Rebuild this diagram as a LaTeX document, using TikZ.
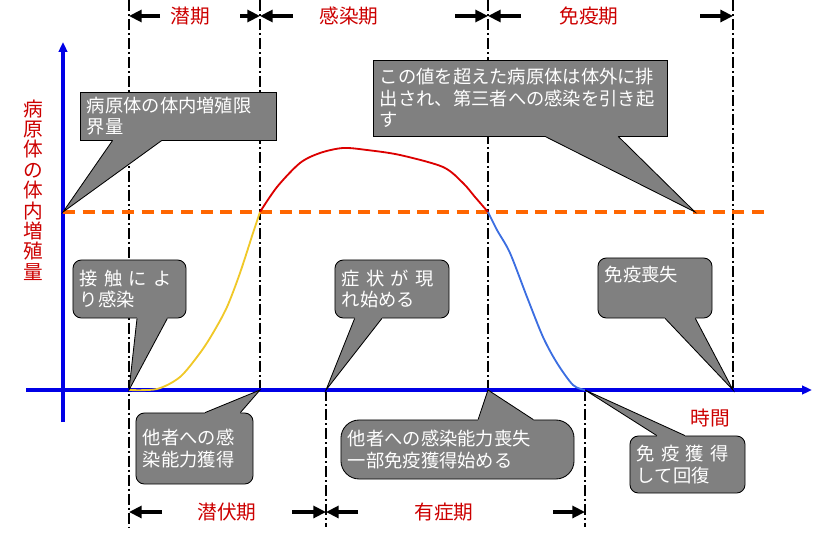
\documentclass[tikz,border=0pt]{standalone}
\usepackage{fontspec}
\setmainfont{Noto Sans CJK JP}
\usetikzlibrary{calc,arrows.meta}

\definecolor{labelred}{RGB}{204,0,0}
\definecolor{axisblue}{RGB}{0,0,230}
\definecolor{limitorange}{RGB}{255,102,0}
\definecolor{boxgray}{RGB}{128,128,128}
\definecolor{curveyellow}{RGB}{240,200,40}
\definecolor{curvered}{RGB}{220,0,0}
\definecolor{curveblue}{RGB}{60,110,225}

\begin{document}
\begin{tikzpicture}[x=0.025cm, y=-0.025cm,
    period/.style={line width=1.4pt, dash pattern=on 8pt off 2pt on 1.5pt off 2pt},
    span/.style={line width=3.3pt, -{Triangle[length=9pt,width=8.5pt]}},
    axis/.style={axisblue, line width=2.8pt},
    phase/.style={text=labelred, font=\fontsize{14}{17}\selectfont},
    note/.style={rectangle, draw=black, line width=0.6pt, fill=boxgray, text=white,
        font=\fontsize{13}{15.5}\selectfont, align=left, inner xsep=5pt, inner ysep=2pt},
    roundnote/.style={note, rounded corners=6pt}]
    \useasboundingbox (0,0) rectangle (816,559);

    % period boundaries
    \coordinate (t1) at (129,0);   \coordinate (b1) at (129,527);
    \coordinate (t2) at (260,0);   \coordinate (b2) at (260,390);
    \coordinate (t3) at (488,0);   \coordinate (b3) at (488,390);
    \coordinate (t4) at (733,0);   \coordinate (b4) at (733,390);
    \coordinate (t5) at (326,390); \coordinate (b5) at (326,527);
    \coordinate (t6) at (585,390); \coordinate (b6) at (585,527);
    \foreach \n in {1,...,6}
        \draw[period] (t\n) -- (b\n);

    % axes and limit
    \coordinate (ybot) at (63,422);   \coordinate (ytop) at (63,42);
    \coordinate (xleft) at (26,390);  \coordinate (xright) at (812,390);
    \coordinate (lim0) at (63,212);   \coordinate (lim1) at (767,212);
    \coordinate (shed) at (695,212);
    \draw[axis, -{Triangle[length=7pt,width=6pt]}] (ybot) -- (ytop);
    \draw[axis, -{Triangle[length=7pt,width=6pt]}] (xleft) -- (xright);
    \draw[limitorange, line width=2.8pt, dash pattern=on 8.5pt off 5.5pt] (lim0) -- (lim1);

    % pathogen curve
    \draw[curveyellow, line width=1.3pt] plot[smooth] coordinates {(129,390) (157,389) (180,377) (200,353) (213,333) (227,307) (240,273) (253,233) (260,212)};
    \draw[curvered, line width=1.3pt] plot[smooth] coordinates {(260,212) (277,187) (300,163) (320,153) (343,148) (367,150) (400,155) (443,167) (463,183) (475,197) (488,212)};
    \draw[curveblue, line width=1.3pt] plot[smooth] coordinates {(488,212) (497,230) (510,253) (527,297) (543,337) (557,363) (573,385) (585,390)};

    % period labels
    \node[phase] (latent) at (190,16) {潜期};
    \node[phase] (infect) at (349,16) {感染期};
    \node[phase] (immune) at (589,16) {免疫期};
    \node[phase] (incub) at (227,512) {潜伏期};
    \node[phase] (sympt) at (444,512) {有症期};
    \node[phase] (time) at (710,418) {時間};
    \node[phase, align=center, font=\fontsize{14}{14.5}\selectfont] (ylabel) at (33,190) {病\\原\\体\\の\\体\\内\\増\\殖\\量};

    \coordinate (s1) at (160,16);  \coordinate (s2) at (240,16);
    \coordinate (s3) at (293,16);  \coordinate (s4) at (455,16);
    \coordinate (s5) at (521,16);  \coordinate (s6) at (700,16);
    \coordinate (s7) at (162,512); \coordinate (s8) at (292,512);
    \coordinate (s9) at (358,512); \coordinate (s10) at (553,512);
    \draw[span] (s1) -- (s1 -| t1);
    \draw[span] (s2) -- (s2 -| t2);
    \draw[span] (s3) -- (s3 -| t2);
    \draw[span] (s4) -- (s4 -| t3);
    \draw[span] (s5) -- (s5 -| t3);
    \draw[span] (s6) -- (s6 -| t4);
    \draw[span] (s7) -- (s7 -| b1);
    \draw[span] (s8) -- (s8 -| b5);
    \draw[span] (s9) -- (s9 -| b5);
    \draw[span] (s10) -- (s10 -| b6);

    % notes
    \node[note, text width=4.55cm, minimum height=1.2cm] (limitnote) at (178,116) {病原体の体内増殖限\\界量};
    \node[note, text width=7.0cm, minimum height=1.9cm] (sheddingnote) at (520,98) {この値を超えた病原体は体外に排\\出され、第三者への感染を引き起\\す};
    \node[roundnote, text width=2.475cm, minimum height=1.45cm] (contactnote) at (129.5,289) {接 触 に よ\\り感染};
    \node[roundnote, text width=2.5cm, minimum height=1.45cm] (symptomnote) at (392,289) {症 状 が 現\\れ始める};
    \node[roundnote, text width=2.5cm, minimum height=1.5cm] (lossnote) at (655,288) {免疫喪失\\ \strut};
    \node[roundnote, text width=2.575cm, minimum height=1.775cm] (gainnote) at (194.5,448.5) {他者への感\\染能力獲得};
    \node[note, rounded corners=13pt, text width=5.475cm, minimum height=1.475cm] (lostnote) at (457.5,449.5) {他者への感染能力喪失\\一部免疫獲得始める};
    \node[roundnote, text width=2.525cm, minimum height=1.425cm] (recovernote) at (687.5,464.5) {免 疫 獲 得\\して回復};

    % note pointers
    \foreach \n/\a/\b/\tip/\w/\e/\d in {
        limitnote/0.168/0.418/lim0/south west/south east/-2,
        sheddingnote/0.585/0.833/shed/south west/south east/-2,
        contactnote/0.566/0.832/t5 -| t1/south west/south east/-2,
        symptomnote/0.175/0.412/t5/south west/south east/-2,
        lossnote/0.588/0.851/b4/south west/south east/-2,
        gainnote/0.59/0.889/b2/north west/north east/2,
        lostnote/0.588/0.824/b3/north west/north east/2,
        recovernote/0.235/0.478/t6/north west/north east/2}
    {
        \fill[boxgray] ($(\n.\w)!\a!(\n.\e) + (0,\d)$) -- ($(\n.\w)!\a!(\n.\e)$) -- (\tip)
            -- ($(\n.\w)!\b!(\n.\e)$) -- ($(\n.\w)!\b!(\n.\e) + (0,\d)$) -- cycle;
        \draw[line width=0.6pt] ($(\n.\w)!\a!(\n.\e)$) -- (\tip) -- ($(\n.\w)!\b!(\n.\e)$);
    }
\end{tikzpicture}
\end{document}
